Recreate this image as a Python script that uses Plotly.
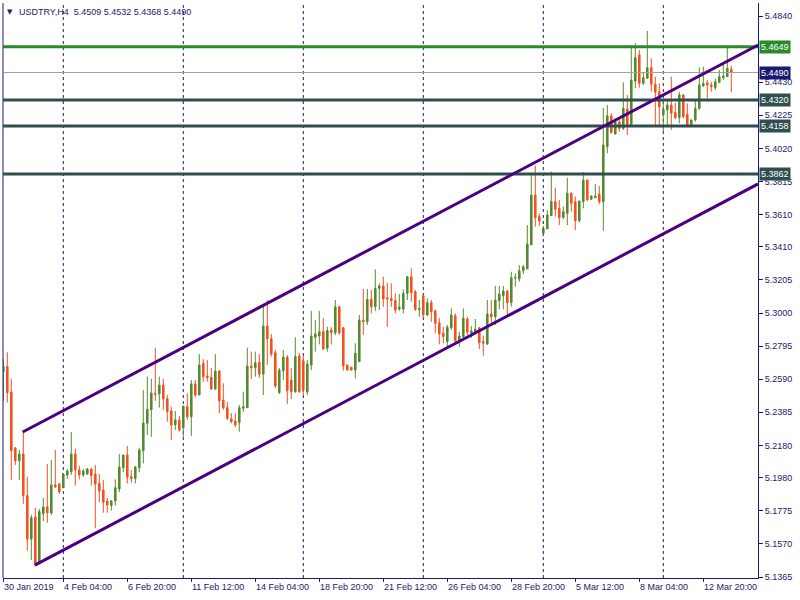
import plotly.graph_objects as go

# ---------------- data ----------------
open_ = [5.2637, 5.2668, 5.2511, 5.2164, 5.2085, 5.2127, 5.1869, 5.1600, 5.1737, 5.1450,
         5.1757, 5.1799, 5.1762, 5.1935, 5.1941, 5.1918, 5.1997, 5.2017, 5.2127, 5.2028,
         5.1997, 5.2003, 5.2034, 5.2003, 5.1945, 5.1904, 5.1836, 5.1807, 5.1836, 5.1910,
         5.2042, 5.2121, 5.1986, 5.1974, 5.2042, 5.2147, 5.2317, 5.2401, 5.2502, 5.2499,
         5.2554, 5.2468, 5.2393, 5.2307, 5.2338, 5.2290, 5.2420, 5.2358, 5.2561, 5.2492,
         5.2689, 5.2610, 5.2602, 5.2530, 5.2641, 5.2461, 5.2414, 5.2344, 5.2331, 5.2321,
         5.2410, 5.2414, 5.2672, 5.2661, 5.2695, 5.2622, 5.2920, 5.2841, 5.2754, 5.2507,
         5.2643, 5.2726, 5.2585, 5.2513, 5.2734, 5.2703, 5.2511, 5.2678, 5.2850, 5.2858,
         5.2884, 5.2782, 5.2895, 5.2878, 5.3039, 5.2909, 5.2678, 5.2664, 5.2647, 5.2699,
         5.2957, 5.2946, 5.3085, 5.3039, 5.3153, 5.3168, 5.3094, 5.3091, 5.3077, 5.3025,
         5.3025, 5.3122, 5.3225, 5.3132, 5.3022, 5.3107, 5.2988, 5.3064, 5.3013, 5.2940,
         5.2875, 5.2823, 5.2909, 5.2984, 5.2823, 5.2854, 5.2963, 5.2876, 5.2881, 5.2909,
         5.2823, 5.2808, 5.2994, 5.2977, 5.3077, 5.3107, 5.3137, 5.3064, 5.3217, 5.3211,
         5.3262, 5.3273, 5.3422, 5.3731, 5.3597, 5.3494, 5.3521, 5.3603, 5.3690, 5.3649,
         5.3591, 5.3618, 5.3742, 5.3690, 5.3572, 5.3690, 5.3824, 5.3705, 5.3714, 5.3737,
         5.3690, 5.4030, 5.4221, 5.4109, 5.4185, 5.4144, 5.4264, 5.4169, 5.4437, 5.4598,
         5.4423, 5.4454, 5.4520, 5.4417, 5.4371, 5.4227, 5.4258, 5.4289, 5.4243, 5.4210,
         5.4351, 5.4231, 5.4165, 5.4196, 5.4268, 5.4406, 5.4427, 5.4413, 5.4396, 5.4429,
         5.4458, 5.4464, 5.4509]
high = [5.2715, 5.2757, 5.2592, 5.2170, 5.2152, 5.2263, 5.1986, 5.1749, 5.1794, 5.1786,
        5.1854, 5.2065, 5.2090, 5.2152, 5.1947, 5.2009, 5.2034, 5.2263, 5.2160, 5.2054,
        5.2034, 5.2040, 5.2040, 5.2059, 5.2003, 5.1966, 5.1854, 5.1842, 5.1970, 5.2127,
        5.2121, 5.2177, 5.2028, 5.2053, 5.2166, 5.2523, 5.2606, 5.2593, 5.2785, 5.2606,
        5.2592, 5.2492, 5.2420, 5.2393, 5.2362, 5.2424, 5.2503, 5.2585, 5.2585, 5.2746,
        5.2714, 5.2709, 5.2660, 5.2746, 5.2647, 5.2565, 5.2451, 5.2379, 5.2379, 5.2430,
        5.2513, 5.2785, 5.2761, 5.2761, 5.2746, 5.3050, 5.3081, 5.2870, 5.2771, 5.2660,
        5.2771, 5.2740, 5.2658, 5.2850, 5.2753, 5.2734, 5.2709, 5.3013, 5.2957, 5.3013,
        5.2968, 5.2915, 5.2912, 5.3081, 5.3045, 5.2912, 5.2680, 5.2668, 5.2813, 5.2988,
        5.3149, 5.3149, 5.3143, 5.3271, 5.3184, 5.3225, 5.3188, 5.3184, 5.3122, 5.3118,
        5.3147, 5.3228, 5.3277, 5.3143, 5.3081, 5.3110, 5.3091, 5.3081, 5.3023, 5.2968,
        5.2915, 5.2926, 5.3029, 5.2998, 5.2884, 5.3029, 5.2977, 5.2920, 5.2963, 5.2915,
        5.2860, 5.3081, 5.3081, 5.3168, 5.3168, 5.3168, 5.3140, 5.3256, 5.3246, 5.3298,
        5.3298, 5.3545, 5.3855, 5.3913, 5.3618, 5.3539, 5.3638, 5.3876, 5.3776, 5.3700,
        5.3659, 5.3838, 5.3748, 5.3721, 5.3694, 5.3872, 5.3828, 5.3728, 5.3799, 5.3787,
        5.4270, 5.4289, 5.4237, 5.4206, 5.4200, 5.4429, 5.4351, 5.4654, 5.4671, 5.4629,
        5.4489, 5.4747, 5.4578, 5.4464, 5.4423, 5.4320, 5.4313, 5.4464, 5.4303, 5.4371,
        5.4355, 5.4299, 5.4199, 5.4320, 5.4522, 5.4526, 5.4443, 5.4433, 5.4454, 5.4505,
        5.4553, 5.4656, 5.4532]
low = [5.2455, 5.2445, 5.1966, 5.2059, 5.1966, 5.1817, 5.1528, 5.1470, 5.1436, 5.1446,
       5.1712, 5.1701, 5.1749, 5.1915, 5.1879, 5.1916, 5.1972, 5.1999, 5.1931, 5.1970,
       5.1985, 5.1997, 5.1931, 5.1667, 5.1828, 5.1763, 5.1763, 5.1776, 5.1807, 5.1890,
       5.2014, 5.1945, 5.1949, 5.1945, 5.2014, 5.2069, 5.2245, 5.2234, 5.2457, 5.2414,
       5.2400, 5.2327, 5.2214, 5.2276, 5.2265, 5.2234, 5.2338, 5.2238, 5.2478, 5.2492,
       5.2575, 5.2575, 5.2523, 5.2523, 5.2379, 5.2400, 5.2338, 5.2317, 5.2292, 5.2265,
       5.2387, 5.2414, 5.2592, 5.2606, 5.2600, 5.2492, 5.2678, 5.2730, 5.2534, 5.2499,
       5.2585, 5.2437, 5.2468, 5.2505, 5.2505, 5.2492, 5.2492, 5.2647, 5.2761, 5.2806,
       5.2772, 5.2761, 5.2806, 5.2864, 5.2864, 5.2643, 5.2645, 5.2643, 5.2596, 5.2699,
       5.2864, 5.2926, 5.2998, 5.3013, 5.3019, 5.3039, 5.2915, 5.3039, 5.2998, 5.3013,
       5.2998, 5.3081, 5.3070, 5.3013, 5.2977, 5.2968, 5.2982, 5.2946, 5.2875, 5.2806,
       5.2813, 5.2792, 5.2895, 5.2802, 5.2792, 5.2833, 5.2864, 5.2845, 5.2878, 5.2777,
       5.2736, 5.2802, 5.2926, 5.2926, 5.3023, 5.3023, 5.2974, 5.3039, 5.3163, 5.3194,
       5.3242, 5.3273, 5.3422, 5.3535, 5.3539, 5.3483, 5.3521, 5.3603, 5.3597, 5.3545,
       5.3583, 5.3545, 5.3628, 5.3514, 5.3560, 5.3649, 5.3696, 5.3702, 5.3714, 5.3674,
       5.3510, 5.3990, 5.4113, 5.4107, 5.4123, 5.4134, 5.4103, 5.4169, 5.4392, 5.4396,
       5.4413, 5.4454, 5.4371, 5.4165, 5.4160, 5.4123, 5.4165, 5.4134, 5.4202, 5.4175,
       5.4206, 5.4160, 5.4160, 5.4185, 5.4258, 5.4402, 5.4330, 5.4371, 5.4382, 5.4423,
       5.4443, 5.4464, 5.4368]
close = [5.2668, 5.2507, 5.2147, 5.2085, 5.2127, 5.1869, 5.1600, 5.1732, 5.1439, 5.1770,
         5.1799, 5.1762, 5.1935, 5.1924, 5.1892, 5.2003, 5.2022, 5.2127, 5.2028, 5.1997,
         5.2022, 5.2034, 5.1993, 5.1941, 5.1898, 5.1828, 5.1811, 5.1836, 5.1918, 5.2046,
         5.2121, 5.1983, 5.1974, 5.2046, 5.2152, 5.2319, 5.2404, 5.2505, 5.2496, 5.2554,
         5.2468, 5.2389, 5.2307, 5.2338, 5.2276, 5.2424, 5.2358, 5.2561, 5.2492, 5.2678,
         5.2606, 5.2600, 5.2530, 5.2641, 5.2457, 5.2414, 5.2348, 5.2327, 5.2307, 5.2414,
         5.2420, 5.2672, 5.2661, 5.2692, 5.2621, 5.2920, 5.2841, 5.2746, 5.2548, 5.2647,
         5.2726, 5.2519, 5.2513, 5.2730, 5.2513, 5.2523, 5.2684, 5.2858, 5.2870, 5.2884,
         5.2777, 5.2891, 5.2878, 5.3039, 5.2878, 5.2672, 5.2647, 5.2647, 5.2751, 5.2957,
         5.2946, 5.3085, 5.3039, 5.3153, 5.3168, 5.3087, 5.3088, 5.3077, 5.3019, 5.3036,
         5.3122, 5.3225, 5.3126, 5.3023, 5.3028, 5.2988, 5.3064, 5.3008, 5.2937, 5.2870,
         5.2854, 5.2912, 5.2988, 5.2829, 5.2858, 5.2968, 5.2881, 5.2889, 5.2901, 5.2816,
         5.2813, 5.2994, 5.2977, 5.3081, 5.3118, 5.3137, 5.3064, 5.3219, 5.3221, 5.3262,
         5.3287, 5.3428, 5.3731, 5.3591, 5.3570, 5.3525, 5.3607, 5.3690, 5.3643, 5.3591,
         5.3628, 5.3742, 5.3680, 5.3572, 5.3694, 5.3824, 5.3700, 5.3725, 5.3725, 5.3690,
         5.4041, 5.4222, 5.4117, 5.4185, 5.4144, 5.4268, 5.4165, 5.4444, 5.4582, 5.4423,
         5.4458, 5.4520, 5.4417, 5.4367, 5.4278, 5.4262, 5.4289, 5.4237, 5.4210, 5.4351,
         5.4216, 5.4165, 5.4196, 5.4268, 5.4413, 5.4423, 5.4413, 5.4402, 5.4433, 5.4464,
         5.4468, 5.4516, 5.4490]

symbol = "USDTRY,H4"

# bottom axis labels (bar index -> text)
x_label_idx = [0, 15, 31, 47, 63, 79, 95, 111, 127, 143, 159, 175]
x_label_text = ["30 Jan 2019", "4 Feb 04:00", "6 Feb 20:00", "11 Feb 12:00", "14 Feb 04:00",
                "18 Feb 20:00", "21 Feb 12:00", "26 Feb 04:00", "28 Feb 20:00", "5 Mar 12:00",
                "8 Mar 04:00", "12 Mar 20:00"]
# vertical dashed grid lines (bar index)
grid_idx = [15, 45, 75, 105, 135, 165]

# right price-axis ticks
y_ticks = [5.4840, 5.4430, 5.4225, 5.4020, 5.3815, 5.3610, 5.3410, 5.3205, 5.3000,
           5.2795, 5.2590, 5.2385, 5.2180, 5.1980, 5.1775, 5.1570, 5.1365]

# horizontal levels
resist_level = [5.4649]
support_levels = [5.4320, 5.4158, 5.3862]
bid_price = close[-1]

# channel trend lines (bar index, price)
upper_ch_idx = [4.85, 188.7]
upper_ch_price = [5.2263, 5.4660]
lower_ch_idx = [7.9, 188.7]
lower_ch_price = [5.1439, 5.3800]

# ---------------- styling ----------------
NAVY = "#1a1a6e"
GREEN_C = "#558b2f"
RED_C = "#f4511e"
PURPLE = "#4b0082"
LEVEL_GREEN = "#2a8a2a"
SLATE = "#2f4f4f"
BID_BG = "#191970"
FONT = "Liberation Sans"

x = list(range(len(open_)))

fig = go.Figure()
fig.add_trace(go.Candlestick(
    x=x, open=open_, high=high, low=low, close=close,
    increasing=dict(line=dict(color=GREEN_C, width=1), fillcolor=GREEN_C),
    decreasing=dict(line=dict(color=RED_C, width=1), fillcolor=RED_C),
    hoverinfo="skip", showlegend=False,
))

shapes = []
for g in grid_idx:
    shapes.append(dict(type="line", xref="x", yref="paper", x0=g, x1=g, y0=0, y1=1,
                       line=dict(color=NAVY, width=1, dash="3px,3px"), layer="below"))
# left border
shapes.append(dict(type="line", xref="paper", yref="paper", x0=0, x1=0, y0=0, y1=1,
                   line=dict(color=NAVY, width=1)))
# bid line
shapes.append(dict(type="line", xref="paper", yref="y", x0=0, x1=1, y0=bid_price, y1=bid_price,
                   line=dict(color="#a0a0a0", width=1), layer="above"))
for lv in resist_level:
    shapes.append(dict(type="line", xref="paper", yref="y", x0=0, x1=1, y0=lv, y1=lv,
                       line=dict(color=LEVEL_GREEN, width=3), layer="above"))
for lv in support_levels:
    shapes.append(dict(type="line", xref="paper", yref="y", x0=0, x1=1, y0=lv, y1=lv,
                       line=dict(color=SLATE, width=3), layer="above"))
shapes.append(dict(type="line", xref="x", yref="y", x0=upper_ch_idx[0], x1=upper_ch_idx[1],
                   y0=upper_ch_price[0], y1=upper_ch_price[1],
                   line=dict(color=PURPLE, width=3), layer="above"))
shapes.append(dict(type="line", xref="x", yref="y", x0=lower_ch_idx[0], x1=lower_ch_idx[1],
                   y0=lower_ch_price[0], y1=lower_ch_price[1],
                   line=dict(color=PURPLE, width=3), layer="above"))

annotations = []
for i, t in zip(x_label_idx, x_label_text):
    annotations.append(dict(x=i, xref="x", y=0, yref="paper", text=t, showarrow=False,
                            xanchor="left", yanchor="top", xshift=-1, yshift=-2,
                            font=dict(family=FONT, size=9, color=NAVY)))

def price_label(val, bg):
    return dict(x=1, xref="paper", y=val, yref="y", text=f"{val:.4f}", showarrow=False,
                xanchor="left", yanchor="middle", xshift=1, bgcolor=bg, borderpad=1,
                font=dict(family=FONT, size=9, color="white"))

for lv in support_levels:
    annotations.append(price_label(lv, SLATE))
for lv in resist_level:
    annotations.append(price_label(lv, LEVEL_GREEN))
annotations.append(price_label(bid_price, BID_BG))

# header
annotations.append(dict(x=0, xref="paper", y=1, yref="paper", text="▼", showarrow=False,
                        xanchor="left", yanchor="middle", xshift=2, yshift=-9,
                        font=dict(family="DejaVu Sans", size=7, color=NAVY)))
title_txt = f"{symbol}  {open_[-1]:.4f} {high[-1]:.4f} {low[-1]:.4f} {close[-1]:.4f}"
annotations.append(dict(x=0, xref="paper", y=1, yref="paper", text=title_txt, showarrow=False,
                        xanchor="left", yanchor="middle", xshift=14, yshift=-9,
                        font=dict(family=FONT, size=9, color=NAVY)))

fig.update_layout(
    width=800, height=600,
    margin=dict(l=3, r=42, t=3, b=22, pad=0, autoexpand=False),
    paper_bgcolor="white", plot_bgcolor="white",
    boxgap=0.45,
    shapes=shapes, annotations=annotations,
    showlegend=False,
    xaxis=dict(range=[-0.075, 188.675], rangeslider=dict(visible=False),
               showgrid=False, zeroline=False, showline=True, linecolor=NAVY, linewidth=1,
               ticks="outside", ticklen=3, tickcolor=NAVY, tickvals=x_label_idx,
               showticklabels=False, fixedrange=True, automargin=False),
    yaxis=dict(range=[5.13588, 5.49205], side="right", showgrid=False, zeroline=False,
               showline=True, linecolor=NAVY, linewidth=1, ticks="outside", ticklen=4,
               tickcolor=NAVY, tickvals=y_ticks, ticktext=[f"{v:.4f}" for v in y_ticks],
               tickfont=dict(family=FONT, size=9, color=NAVY), fixedrange=True,
               automargin=False),
)

fig.write_html(
    "out.html",
    config={"displayModeBar": False},
    post_script="document.body.style.margin='0';document.body.style.overflow='hidden';",
)
